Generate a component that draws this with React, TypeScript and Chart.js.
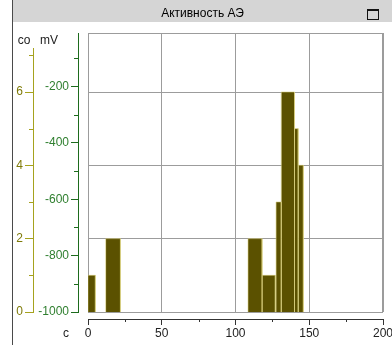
import { useEffect, useRef } from 'react';
import { Chart, registerables } from 'chart.js';

Chart.register(...registerables);

// ---- data ----
const chartTitle = 'Активность АЭ';
const binStart = [0, 12, 108.5, 118, 127.5, 131, 140, 142.5];
const binEnd = [5, 22, 118, 127, 131, 140, 142.5, 146];
const binCount = [1, 2, 2, 1, 3, 6, 5, 4];
const xTicks = [0, 50, 100, 150, 200];
const xMinor = [25, 75, 125, 175];
const coTicks = [0, 2, 4, 6];
const coMinor = [1, 3, 5, 7];
const mvTicks = [-1000, -800, -600, -400, -200];
const mvMinor = [-900, -700, -500, -300, -100];
const unitCo = 'co';
const unitMv = 'mV';
const unitX = 'c';

// ---- styles ----
const FONT = "'Liberation Sans', Arial, sans-serif";
const BAR = '#5b5100';
const BAR_EDGE = 'rgba(214,204,120,0.55)';
const CO_LINE = '#a6a21e';
const CO_TEXT = '#7e7a08';
const MV_LINE = '#1d6b1d';
const MV_TEXT = '#2f7f2f';
const GRID = '#9c9c9c';
const AXIS = '#333333';

const L = {
  panelLeft: 12,
  titleH: 22,
  plotL: 88,
  plotT: 33,
  plotR: 383,
  plotB: 312,
  coL: 13,
  coR: 33,
  coT: 48,
  mvR: 78,
  xTop: 319,
};

function place(s: any, left: number, top: number, right: number, bottom: number) {
  s.left = left;
  s.top = top;
  s.right = right;
  s.bottom = bottom;
  s.width = right - left;
  s.height = bottom - top;
  s.configure();
}

const panelPlugin = {
  id: 'panelPlugin',
  afterLayout(chart: any) {
    const ca = chart.chartArea;
    ca.left = L.plotL;
    ca.top = L.plotT;
    ca.right = L.plotR;
    ca.bottom = L.plotB;
    ca.width = ca.right - ca.left;
    ca.height = ca.bottom - ca.top;
    place(chart.scales.x, L.plotL, L.xTop, L.plotR, chart.height);
    place(chart.scales.co, L.coL, L.coT, L.coR, L.plotB);
    place(chart.scales.mv, L.coR, L.plotT, L.mvR, L.plotB);
  },
  beforeDraw(chart: any) {
    const ctx = chart.ctx;
    ctx.save();
    ctx.fillStyle = '#ffffff';
    ctx.fillRect(0, 0, chart.width, chart.height);
    ctx.fillStyle = '#d5d5d5';
    ctx.fillRect(L.panelLeft + 1, 0, chart.width - L.panelLeft - 1, L.titleH);
    ctx.strokeStyle = '#4a4a4a';
    ctx.lineWidth = 1;
    ctx.beginPath();
    ctx.moveTo(L.panelLeft + 0.5, 0);
    ctx.lineTo(L.panelLeft + 0.5, chart.height);
    ctx.stroke();
    // window button
    ctx.strokeStyle = '#111';
    ctx.strokeRect(367.5, 9.5, 11, 10);
    ctx.fillStyle = '#111';
    ctx.fillRect(367, 9, 12, 2);
    ctx.restore();
  },
  beforeDatasetsDraw(chart: any) {
    const ctx = chart.ctx;
    const ca = chart.chartArea;
    ctx.save();
    ctx.strokeStyle = GRID;
    ctx.lineWidth = 1;
    ctx.strokeRect(ca.left + 0.5, ca.top + 0.5, ca.right - ca.left - 1, ca.bottom - ca.top);
    ctx.restore();
  },
  afterDraw(chart: any) {
    const ctx = chart.ctx;
    const { x, co, mv } = chart.scales;
    ctx.save();
    ctx.lineWidth = 1;
    ctx.strokeStyle = CO_LINE;
    ctx.beginPath();
    coMinor.forEach((v) => {
      const py = Math.round(co.getPixelForValue(v)) + 0.5;
      ctx.moveTo(co.right - 4, py);
      ctx.lineTo(co.right, py);
    });
    ctx.stroke();
    ctx.strokeStyle = MV_LINE;
    ctx.beginPath();
    mvMinor.forEach((v) => {
      const py = Math.round(mv.getPixelForValue(v)) + 0.5;
      ctx.moveTo(mv.right - 4, py);
      ctx.lineTo(mv.right, py);
    });
    ctx.stroke();
    ctx.strokeStyle = AXIS;
    ctx.beginPath();
    xMinor.forEach((v) => {
      const px = Math.round(x.getPixelForValue(v)) + 0.5;
      ctx.moveTo(px, x.top);
      ctx.lineTo(px, x.top + 3);
    });
    ctx.stroke();
    ctx.font = `12px ${FONT}`;
    ctx.fillStyle = '#222';
    ctx.textBaseline = 'middle';
    ctx.textAlign = 'center';
    ctx.fillText(unitCo, 24, 41);
    ctx.fillText(unitMv, 49, 41);
    ctx.fillText(unitX, 66, 334);
    ctx.restore();
  },
};

const plain = (v: any) => String(v);

export default function App() {
  const ref = useRef<HTMLCanvasElement>(null);

  useEffect(() => {
    document.body.style.margin = '0';
    const canvas = ref.current;
    if (!canvas) return;
    const datasets = binStart.map((s, i) => ({
      data: [
        { x: s, y: 0 },
        { x: s, y: binCount[i] },
        { x: binEnd[i], y: binCount[i] },
        { x: binEnd[i], y: 0 },
      ],
      xAxisID: 'x',
      yAxisID: 'co',
      backgroundColor: BAR,
      borderColor: BAR_EDGE,
      borderWidth: 1,
      fill: 'origin',
      pointRadius: 0,
      tension: 0,
    }));
    const chart = new Chart(canvas, {
      type: 'line',
      data: { datasets },
      plugins: [panelPlugin],
      options: {
        animation: false,
        responsive: false,
        devicePixelRatio: 1,
        layout: { padding: { left: 13, right: 0, top: 0, bottom: 4 } },
        plugins: {
          legend: { display: false },
          tooltip: { enabled: false },
          title: {
            display: true,
            text: chartTitle,
            color: '#000',
            font: { family: FONT, size: 12, weight: 'normal' },
            padding: { top: 6, bottom: 2 },
          },
        },
        scales: {
          x: {
            type: 'linear',
            position: 'bottom',
            min: 0,
            max: 200,
            afterBuildTicks: (s: any) => {
              s.ticks = xTicks.map((v) => ({ value: v }));
            },
            grid: { color: GRID, tickColor: AXIS, tickLength: 6, drawOnChartArea: true },
            border: { color: AXIS, width: 1 },
            ticks: { color: '#222', font: { family: FONT, size: 12 }, padding: 1, maxRotation: 0, callback: plain },
          },
          co: {
            type: 'linear',
            position: 'left',
            weight: 1,
            min: 0,
            max: 7.2,
            afterBuildTicks: (s: any) => {
              s.ticks = coTicks.map((v) => ({ value: v }));
            },
            grid: { color: GRID, tickColor: CO_LINE, tickLength: 8, drawOnChartArea: true },
            border: { color: CO_LINE, width: 1 },
            ticks: { color: CO_TEXT, font: { family: FONT, size: 12 }, padding: 2, callback: plain },
          },
          mv: {
            type: 'linear',
            position: 'left',
            weight: 0,
            min: -1000,
            max: -10,
            afterBuildTicks: (s: any) => {
              s.ticks = mvTicks.map((v) => ({ value: v }));
            },
            grid: { color: GRID, tickColor: MV_LINE, tickLength: 7, drawOnChartArea: false },
            border: { color: MV_LINE, width: 1 },
            ticks: { color: MV_TEXT, font: { family: FONT, size: 12 }, padding: 2, callback: plain },
          },
        },
      } as any,
    });
    return () => chart.destroy();
  }, []);

  return (
    <div style={{ width: 392, height: 345, position: 'relative' }}>
      <canvas ref={ref} width={392} height={345} style={{ display: 'block' }} />
    </div>
  );
}
